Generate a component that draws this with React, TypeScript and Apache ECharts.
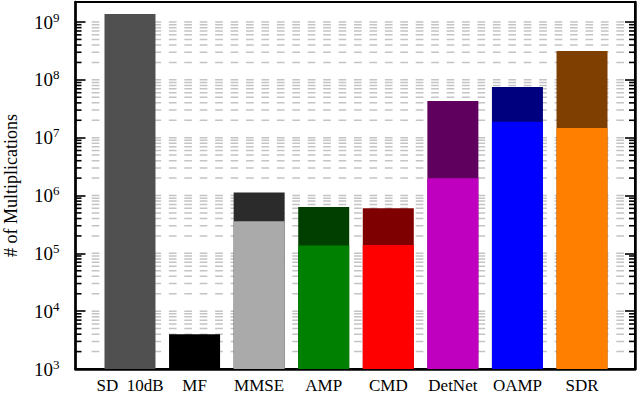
import React, { useEffect, useRef } from "react";
import * as echarts from "echarts";

const categories = ["SD  10dB", "MF", "MMSE", "AMP", "CMD", "DetNet", "OAMP", "SDR"];
const totalValues = [1.38e9, 4.0e3, 1.13e6, 6.3e5, 6.0e5, 4.3e7, 7.5e7, 3.15e8];
const partValues: (number | null)[] = [null, null, 3.6e5, 1.36e5, 1.39e5, 1.99e6, 1.89e7, 1.47e7];
const totalColors = ["#505050", "#000000", "#2b2b2b", "#003f00", "#7f0000", "#5f005f", "#00007f", "#7f3f00"];
const partColors = ["", "", "#aaaaaa", "#008000", "#ff0000", "#bf00bf", "#0000ff", "#ff8000"];
const yMin = 1e3;
const yMax = 2.22e9;
const decadeExponents = [3, 4, 5, 6, 7, 8];
const minorMultipliers = [2, 3, 4, 5, 6, 7, 8, 9];

const FONT = "Liberation Serif";

export default function App() {
  const ref = useRef<HTMLDivElement>(null);
  useEffect(() => {
    if (!ref.current) return;
    const chart = echarts.init(ref.current, undefined, { renderer: "svg" });

    // grid-line / minor-tick values: [x, y, isMajor]
    const lineData: number[][] = [];
    decadeExponents.forEach((e) => {
      const base = Math.pow(10, e);
      minorMultipliers.forEach((m) => lineData.push([0, m * base, 0]));
      lineData.push([0, base * 10, 1]);
    });

    const yAxisCommon = {
      type: "log" as const,
      logBase: 10,
      min: yMin,
      max: yMax,
      startValue: yMin,
      splitLine: { show: false },
      axisLine: { show: true, lineStyle: { color: "#000", width: 2.5 } },
      axisTick: { show: true, inside: true, length: 10, lineStyle: { color: "#000", width: 1.6 } },
    };

    const option: any = {
      animation: false,
      backgroundColor: "#fff",
      grid: [
        { left: 75.5, right: 5, top: 2, bottom: 25, show: true, borderColor: "#000", borderWidth: 2, backgroundColor: "transparent", outerBoundsMode: "none" },
        { left: 97.7, right: 25.7, top: 2, bottom: 25, outerBoundsMode: "none" },
      ],
      xAxis: [
        {
          type: "value", gridIndex: 0, min: 0, max: 1,
          axisLine: { show: true, lineStyle: { color: "#000", width: 2.5 } },
          axisTick: { show: false }, axisLabel: { show: false }, splitLine: { show: false },
        },
        {
          type: "category", gridIndex: 1, data: categories,
          axisLine: { show: false },
          axisTick: { show: true, inside: true, alignWithLabel: true, length: 9, lineStyle: { color: "#000", width: 1.6 } },
          axisLabel: { color: "#000", fontFamily: FONT, fontSize: 17, margin: 8, interval: 0 },
          splitLine: { show: false },
        },
      ],
      yAxis: [
        {
          ...yAxisCommon, gridIndex: 0, position: "left",
          name: "# of Multiplications", nameLocation: "middle", nameRotate: 90, nameGap: 56,
          nameTextStyle: { color: "#000", fontFamily: FONT, fontSize: 18 },
          axisLabel: {
            show: true, showMaxLabel: false, margin: 16, color: "#000", fontFamily: FONT, fontSize: 19,
            formatter: (v: number) => `10{sup|${Math.round(Math.log10(v))}}`,
            rich: { sup: { fontSize: 13, fontFamily: FONT, color: "#000", padding: [0, 0, 10, 0], verticalAlign: "bottom" } },
          },
        },
        { ...yAxisCommon, gridIndex: 0, position: "right", axisLabel: { show: false } },
        { ...yAxisCommon, gridIndex: 1, show: false },
      ],
      series: [
        {
          type: "custom", xAxisIndex: 0, yAxisIndex: 0, z: 1, silent: true,
          encode: { x: 0, y: 1 },
          data: lineData,
          renderItem: (params: any, api: any) => {
            const cs = params.coordSys;
            const y = api.coord([0, api.value(1)])[1];
            const isMajor = api.value(2) === 1;
            const children: any[] = [
              {
                type: "line",
                shape: { x1: cs.x + 16.2, y1: y, x2: cs.x + cs.width - 9, y2: y },
                style: { stroke: "#c4c4c4", lineWidth: 1.5, lineDash: [7.7, 7.73] },
              },
            ];
            if (!isMajor) {
              children.push(
                { type: "line", shape: { x1: cs.x, y1: y, x2: cs.x + 6, y2: y }, style: { stroke: "#000", lineWidth: 1.6 } },
                { type: "line", shape: { x1: cs.x + cs.width - 6, y1: y, x2: cs.x + cs.width, y2: y }, style: { stroke: "#000", lineWidth: 1.6 } }
              );
            }
            return { type: "group", children };
          },
        },
        {
          type: "bar", name: "total", xAxisIndex: 1, yAxisIndex: 2, z: 2, barWidth: 51, clip: true,
          data: totalValues.map((v, i) => ({ value: v, itemStyle: { color: totalColors[i] } })),
        },
        {
          type: "bar", name: "part", xAxisIndex: 1, yAxisIndex: 2, z: 3, barWidth: 51, barGap: "-100%", clip: true,
          data: partValues.map((v, i) => (v == null ? "-" : { value: v, itemStyle: { color: partColors[i] } })),
        },
      ],
    };
    chart.setOption(option);
    return () => chart.dispose();
  }, []);
  return <div ref={ref} style={{ width: 640, height: 394, position: "fixed", left: 0, top: 0 }} />;
}
